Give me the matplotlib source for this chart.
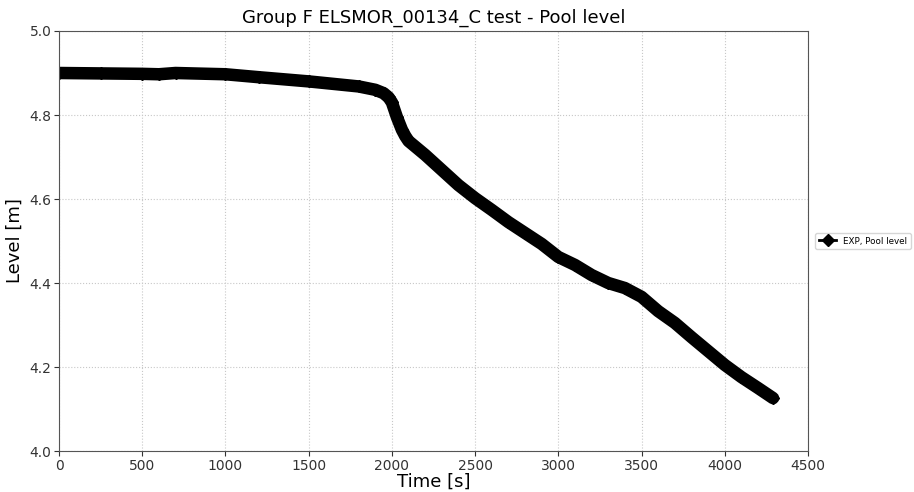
import numpy as np
import matplotlib.pyplot as plt

# Dados
time_s = [0, 250, 500, 600, 700, 1000, 1200, 1500, 1800, 1900, 1950, 1980,
          2000, 2030, 2060, 2080, 2100, 2200, 2300, 2400, 2500, 2600, 2700,
          2800, 2900, 3000, 3100, 3200, 3300, 3400, 3500, 3600, 3700, 3800,
          3900, 4000, 4100, 4200, 4290]
level_m = [4.900, 4.899, 4.898, 4.897, 4.900, 4.897, 4.890, 4.880, 4.868,
           4.860, 4.852, 4.842, 4.830, 4.795, 4.765, 4.750, 4.738, 4.705,
           4.669, 4.633, 4.602, 4.574, 4.545, 4.519, 4.493, 4.462, 4.443,
           4.419, 4.400, 4.388, 4.367, 4.333, 4.305, 4.271, 4.238, 4.205,
           4.176, 4.150, 4.126]

fig = plt.figure(figsize=(9.14, 4.92), dpi=100)
ax = fig.add_axes([0.0646, 0.0833, 0.8194, 0.8537])

ax.plot(time_s, level_m, color='black', linewidth=9, solid_capstyle='round',
        solid_joinstyle='round')
ax.plot(time_s, level_m, color='black', linewidth=2, marker='D',
        markersize=6, label='EXP, Pool level')

ax.set_xlim(0, 4500)
ax.set_ylim(4.0, 5.0)
ax.set_xticks(np.arange(0, 4501, 500))
ax.set_yticks([4.0, 4.2, 4.4, 4.6, 4.8, 5.0])
ax.grid(True, linestyle=':', color='#c8c8c8', linewidth=0.8)
ax.tick_params(labelsize=10, colors='#333333', pad=2)
for s in ax.spines.values():
    s.set_color('#555555')

ax.set_title('Group F ELSMOR_00134_C test - Pool level', fontsize=13)
ax.set_xlabel('Time [s]', fontsize=13, labelpad=0)
ax.set_ylabel('Level [m]', fontsize=13)

leg = ax.legend(loc='center left', bbox_to_anchor=(1.004, 0.5), fontsize=6.3,
                handlelength=2, borderpad=0.4)

fig.savefig('out.png', dpi=100)
